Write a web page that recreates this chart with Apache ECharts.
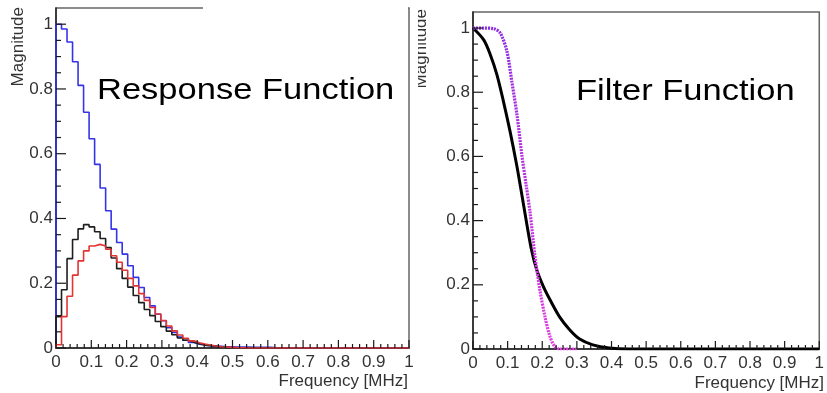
<!DOCTYPE html>
<html>
<head>
<meta charset="utf-8">
<script src="https://cdn.jsdelivr.net/npm/echarts@6/dist/echarts.min.js"></script>
</head>
<body style="margin:0">
<div id="c" style="width:827px;height:393px"></div>
<script>
// ---------- DATA ----------
// Left panel: response-function histograms, 64 bins over 0..1 MHz
const nBins = 64;
const blueResponse = [1.0, 0.985, 0.945, 0.884, 0.811, 0.728, 0.646, 0.567, 0.494, 0.424, 0.367, 0.326, 0.290, 0.254, 0.218, 0.187,
  0.156, 0.130, 0.104, 0.084, 0.063, 0.048, 0.034, 0.024, 0.017, 0.012, 0.009, 0.007, 0.006, 0.005, 0.004, 0.004,
  0.003, 0.003, 0.003, 0.002, 0.002, 0.002, 0.002, 0.001, 0.001, 0, 0, 0, 0, 0, 0, 0,
  0, 0, 0, 0, 0, 0, 0, 0, 0, 0, 0, 0, 0, 0, 0, 0];
const blackResponse = [0.097, 0.180, 0.276, 0.335, 0.368, 0.381, 0.374, 0.359, 0.338, 0.310, 0.278, 0.245, 0.215, 0.188, 0.162, 0.140,
  0.119, 0.100, 0.082, 0.066, 0.052, 0.041, 0.031, 0.024, 0.018, 0.013, 0.009, 0.007, 0.005, 0.003, 0.002, 0.001,
  0.001, 0, 0, 0, 0, 0, 0, 0, 0, 0, 0, 0, 0, 0, 0, 0,
  0, 0, 0, 0, 0, 0, 0, 0, 0, 0, 0, 0, 0, 0, 0, 0];
const redResponse = [0.010, 0.097, 0.160, 0.225, 0.269, 0.300, 0.315, 0.320, 0.315, 0.305, 0.285, 0.265, 0.240, 0.215, 0.192, 0.168,
  0.147, 0.125, 0.105, 0.085, 0.068, 0.053, 0.040, 0.030, 0.022, 0.016, 0.012, 0.009, 0.006, 0.004, 0.003, 0.002,
  0.001, 0.001, 0, 0, 0, 0, 0, 0, 0, 0, 0, 0, 0, 0, 0, 0,
  0, 0, 0, 0, 0, 0, 0, 0, 0, 0, 0, 0, 0, 0, 0, 0];

// Right panel: filter functions (frequency, magnitude)
const blackFilterFreq = [0, 0.031, 0.050, 0.069, 0.088, 0.107, 0.126, 0.138, 0.155, 0.169, 0.184, 0.203, 0.222, 0.250, 0.279, 0.308, 0.346, 0.393, 0.450, 1.0];
const blackFilterMag  = [1.0, 0.963, 0.917, 0.855, 0.771, 0.678, 0.574, 0.500, 0.392, 0.309, 0.247, 0.195, 0.154, 0.100, 0.060, 0.031, 0.013, 0.003, 0, 0];
const magentaFilterFreq = [0, 0.030, 0.060, 0.079, 0.098, 0.112, 0.127, 0.141, 0.153, 0.165, 0.179, 0.193, 0.208, 0.222, 0.236, 0.250, 0.300];
const magentaFilterMag  = [1.0, 1.0, 0.998, 0.984, 0.927, 0.834, 0.730, 0.605, 0.515, 0.424, 0.289, 0.185, 0.100, 0.040, 0.008, 0, 0];

// Axis ticks / labels
const xTicks = [0, 0.1, 0.2, 0.3, 0.4, 0.5, 0.6, 0.7, 0.8, 0.9, 1];
const yTicks = [0, 0.2, 0.4, 0.6, 0.8, 1];
const xMinorPerMajor = 5;
const yMinorPerMajor = 4;
const xAxisTitle = 'Frequency [MHz]';
const yAxisTitle = 'Magnitude';
const leftTitle = 'Response Function';
const rightTitle = 'Filter Function';

// ---------- BUILD ----------
function histPoints(vals) {
  const pts = [[0, 0]];
  vals.forEach((v, k) => pts.push([k / nBins, v]));
  pts.push([vals.length / nBins, 0]);
  return pts;
}
function pairs(xs, ys) { return xs.map((x, i) => [x, ys[i]]); }
// tick positions: [value, length] for majors and minors
function tickList(majors, nMinor, majLen, minLen) {
  const out = [];
  for (let i = 0; i < majors.length; i++) {
    out.push([majors[i], majLen]);
    if (i < majors.length - 1) {
      const step = (majors[i + 1] - majors[i]) / nMinor;
      for (let j = 1; j < nMinor; j++) out.push([majors[i] + j * step, minLen]);
    }
  }
  return out;
}
const TICK = '#1a1a1a';
function xTickSeries(gi) {
  return { type: 'custom', xAxisIndex: gi, yAxisIndex: gi, silent: true, z: 6, clip: false,
    data: tickList(xTicks, xMinorPerMajor, 8, 4).map(t => [t[0], 0, t[1]]),
    renderItem: (params, api) => {
      const p = api.coord([api.value(0), 0]);
      return { type: 'line', shape: { x1: p[0], y1: p[1], x2: p[0], y2: p[1] - api.value(2) },
        style: { stroke: TICK, lineWidth: 1.2 } };
    } };
}
function yTickSeries(gi) {
  return { type: 'custom', xAxisIndex: gi, yAxisIndex: gi, silent: true, z: 6, clip: false,
    data: tickList(yTicks, yMinorPerMajor, 10, 5).map(t => [0, t[0], t[1]]),
    renderItem: (params, api) => {
      const p = api.coord([0, api.value(1)]);
      return { type: 'line', shape: { x1: p[0], y1: p[1], x2: p[0] + api.value(2), y2: p[1] },
        style: { stroke: TICK, lineWidth: 1.2 } };
    } };
}

const FONT = '"Liberation Sans", Arial, sans-serif';
function xAxisCfg(gi) {
  return {
    type: 'value', gridIndex: gi, min: xTicks[0], max: xTicks[xTicks.length - 1], interval: 0.1,
    axisLine: { show: true, lineStyle: { color: '#222', width: 1.5 } },
    axisTick: { show: false }, minorTick: { show: false },
    splitLine: { show: false },
    axisLabel: { color: '#333', fontSize: 17, fontFamily: FONT, margin: 6 }
  };
}
function yAxisCfg(gi) {
  return {
    type: 'value', gridIndex: gi, min: yTicks[0], max: 1.05, interval: 0.2,
    axisLine: { show: true, lineStyle: { color: '#222', width: 1.5 } },
    axisTick: { show: false }, minorTick: { show: false },
    splitLine: { show: false },
    axisLabel: { color: '#333', fontSize: 17, fontFamily: FONT, margin: 3, showMaxLabel: false,
      formatter: v => (yTicks.some(t => Math.abs(t - v) < 1e-9) ? String(+v.toFixed(1)) : '') }
  };
}

const chart = echarts.init(document.getElementById('c'));
chart.setOption({
  animation: false,
  grid: [
    { left: 56, top: 8, width: 353, height: 340, show: true, borderColor: '#666', borderWidth: 1.5 },
    { left: 473, top: 12, width: 351, height: 337, show: true, borderColor: '#666', borderWidth: 1.5 }
  ],
  xAxis: [xAxisCfg(0), xAxisCfg(1)],
  yAxis: [yAxisCfg(0), yAxisCfg(1)],
  series: [
    { type: 'line', xAxisIndex: 0, yAxisIndex: 0, step: 'end', showSymbol: false, data: histPoints(blueResponse),
      lineStyle: { color: '#3434e6', width: 1.6 } },
    { type: 'line', xAxisIndex: 0, yAxisIndex: 0, step: 'end', showSymbol: false, data: histPoints(blackResponse),
      lineStyle: { color: '#1e1e1e', width: 1.6 } },
    { type: 'line', xAxisIndex: 0, yAxisIndex: 0, step: 'end', showSymbol: false, data: histPoints(redResponse),
      lineStyle: { color: '#e23434', width: 1.6 } },
    { type: 'line', xAxisIndex: 1, yAxisIndex: 1, smooth: 0.3, showSymbol: false, data: pairs(blackFilterFreq, blackFilterMag),
      lineStyle: { color: '#000', width: 3 } },
    { type: 'line', xAxisIndex: 1, yAxisIndex: 1, smooth: 0.3, showSymbol: false, data: pairs(magentaFilterFreq, magentaFilterMag),
      lineStyle: { width: 3.2, type: [2, 1],
        color: new echarts.graphic.LinearGradient(0, 0, 0, 1, [
          { offset: 0, color: '#8a2be2' }, { offset: 0.35, color: '#b030e0' }, { offset: 1, color: '#e040e0' }]) } },
    xTickSeries(0), yTickSeries(0), xTickSeries(1), yTickSeries(1)
  ],
  graphic: [
    // white label box covering part of left frame top
    { type: 'rect', left: 203, top: 4, shape: { width: 205, height: 8 }, style: { fill: '#fff' }, z: 50 },
    { type: 'text', x: 97, y: 91, scaleY: 0.88, z: 60,
      style: { text: leftTitle, x: 0, y: 0, font: '34.5px ' + FONT, fill: '#000', align: 'left', verticalAlign: 'middle' } },
    { type: 'text', x: 576, y: 92, scaleY: 0.88, z: 60,
      style: { text: rightTitle, x: 0, y: 0, font: '34.5px ' + FONT, fill: '#000', align: 'left', verticalAlign: 'middle' } },
    { type: 'text', x: 9.5, y: 7, rotation: Math.PI / 2, z: 60,
      style: { text: yAxisTitle, x: 0, y: 0, font: '17px ' + FONT, fill: '#333', align: 'right', verticalAlign: 'top' } },
    { type: 'text', x: 413, y: 9, rotation: Math.PI / 2, z: 60,
      style: { text: yAxisTitle, x: 0, y: 0, font: '17px ' + FONT, fill: '#333', align: 'right', verticalAlign: 'top' } },
    { type: 'rect', left: 410.5, top: 0, shape: { width: 7.5, height: 100 }, style: { fill: '#fff' }, z: 70 },
    { type: 'text', x: 408, y: 381, z: 60,
      style: { text: xAxisTitle, x: 0, y: 0, font: '17px ' + FONT, fill: '#333', align: 'right', verticalAlign: 'middle' } },
    { type: 'text', x: 824, y: 383, z: 60,
      style: { text: xAxisTitle, x: 0, y: 0, font: '17px ' + FONT, fill: '#333', align: 'right', verticalAlign: 'middle' } }
  ]
});
</script>
</body>
</html>
